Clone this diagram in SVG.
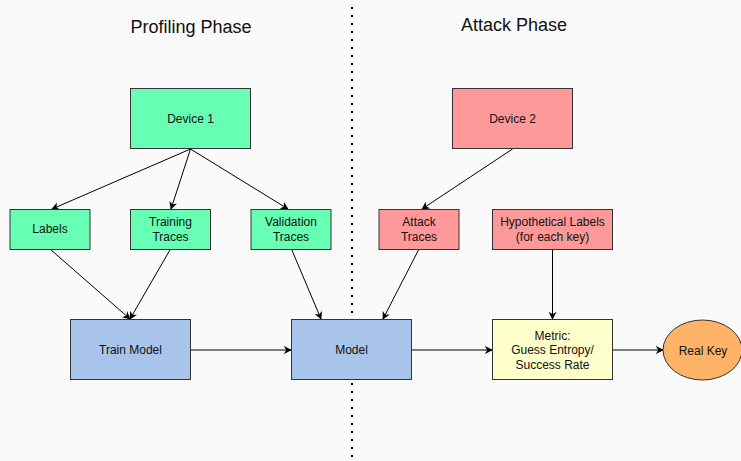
<svg xmlns="http://www.w3.org/2000/svg" width="741" height="461" viewBox="0 0 741 461">
<defs>
<style>
.box{stroke:#333;stroke-width:1}
.g{fill:#66FFB3}
.r{fill:#FF9999}
.b{fill:#A9C4EB}
.y{fill:#FFFFCC}
.o{fill:#FFB366}
text{font-family:"Liberation Sans",Arial,sans-serif;font-size:12px;fill:#111;text-anchor:middle}
.title{font-size:18px}
.c line{stroke:#000;stroke-width:1;marker-end:url(#ah)}
</style>
<marker id="ah" viewBox="0 0 10 10" refX="9" refY="5" markerWidth="8" markerHeight="8" markerUnits="userSpaceOnUse" orient="auto">
<path d="M0,0 L10,5 L0,10 L3,5 Z" fill="#000"/>
</marker>
</defs>
<rect width="741" height="461" fill="#FAFAFA"/>
<line x1="352" y1="7" x2="352" y2="461" stroke="#000" stroke-width="2" stroke-dasharray="2 6"/>
<text class="title" x="191" y="33">Profiling Phase</text>
<text class="title" x="514" y="31">Attack Phase</text>
<g class="c">
<line x1="190.5" y1="149" x2="52" y2="209"/>
<line x1="190.5" y1="149" x2="171" y2="209"/>
<line x1="190.5" y1="149" x2="288" y2="209"/>
<line x1="512.5" y1="149" x2="422" y2="209"/>
<line x1="50" y1="249" x2="130" y2="319"/>
<line x1="170.5" y1="249" x2="130" y2="319"/>
<line x1="291.5" y1="249" x2="321" y2="319"/>
<line x1="419" y1="249" x2="383" y2="319"/>
<line x1="552.5" y1="249" x2="552.5" y2="319"/>
<line x1="191" y1="350" x2="291" y2="350"/>
<line x1="412" y1="350" x2="492" y2="350"/>
<line x1="613" y1="350" x2="663" y2="350"/>
</g>
<g id="device1"><rect class="box g" x="130.5" y="88.5" width="120" height="60"/><text x="190.5" y="123">Device 1</text></g>
<g id="labels"><rect class="box g" x="10" y="209.5" width="80" height="40"/><text x="50" y="233">Labels</text></g>
<g id="training"><rect class="box g" x="130.5" y="209.5" width="80" height="40"/><text x="170.5" y="226">Training</text><text x="170.5" y="241">Traces</text></g>
<g id="validation"><rect class="box g" x="251" y="209.5" width="80" height="40"/><text x="291" y="226">Validation</text><text x="291" y="241">Traces</text></g>
<g id="device2"><rect class="box r" x="452.5" y="88.5" width="120" height="60"/><text x="512.5" y="123">Device 2</text></g>
<g id="attack"><rect class="box r" x="379" y="209.5" width="80" height="40"/><text x="419" y="226">Attack</text><text x="419" y="241">Traces</text></g>
<g id="hypo"><rect class="box r" x="492.5" y="209.5" width="120" height="40"/><text x="552.5" y="226">Hypothetical Labels</text><text x="552.5" y="241">(for each key)</text></g>
<g id="train"><rect class="box b" x="70.5" y="319.5" width="120" height="60"/><text x="130.5" y="354">Train Model</text></g>
<g id="model"><rect class="box b" x="291.5" y="319.5" width="120" height="60"/><text x="351.5" y="354">Model</text></g>
<g id="metric"><rect class="box y" x="492.5" y="319.5" width="120" height="60"/><text x="552.5" y="339.5">Metric:</text><text x="552.5" y="354">Guess Entropy/</text><text x="552.5" y="368.5">Success Rate</text></g>
<g id="realkey"><ellipse class="box o" cx="702.5" cy="350" rx="39.5" ry="30"/><text x="703" y="355">Real Key</text></g>
</svg>
